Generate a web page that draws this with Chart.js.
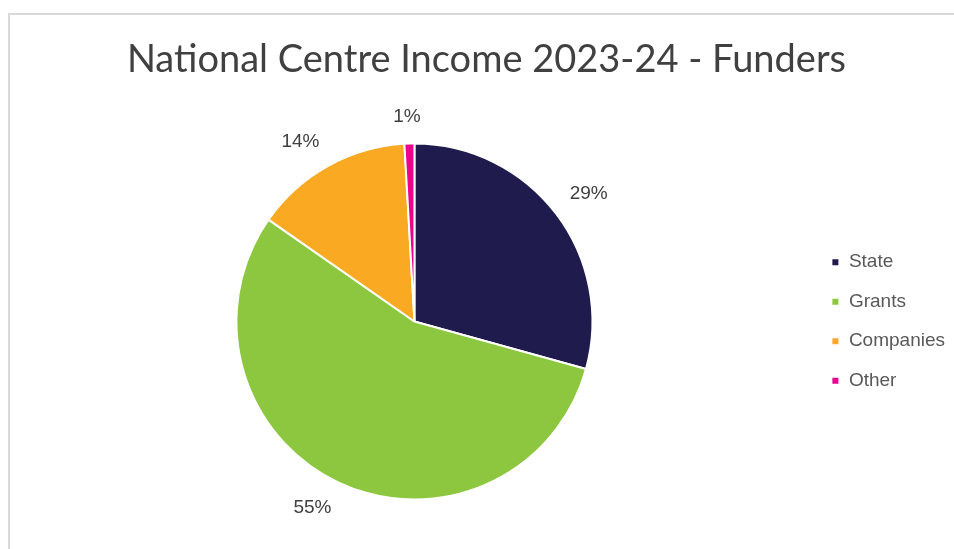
<!DOCTYPE html>
<html>
<head>
<meta charset="utf-8">
<script src="https://cdn.jsdelivr.net/npm/chart.js@4.4.1/dist/chart.umd.min.js"></script>
<style>
    body { margin: 0; background: #ffffff; overflow: hidden; }
    #frame {
        position: absolute;
        left: 8px;
        top: 13px;
        width: 980px;
        height: 560px;
        border: 2px solid #d9d9d9;
    }
    #wrap {
        position: absolute;
        left: 0;
        top: 0;
        width: 958px;
        height: 534px;
    }
</style>
</head>
<body>
<div id="frame">
    <div id="wrap"><canvas id="chart1"></canvas></div>
</div>
<script>
const titleText = 'National Centre Income 2023-24 - Funders';
const funders = ['State', 'Grants', 'Companies', 'Other'];
const shares = [29.3, 55.4, 14.4, 0.9];
const sliceColours = ['#1f1b4d', '#8dc63f', '#faa922', '#ec008c'];

// Percent labels outside each slice, like Excel's "outside end":
// the label corner nearest the pie sits on a ring just outside the slice
const outsideLabels = {
    id: 'outsideLabels',
    afterDatasetsDraw(chart) {
        const ctx = chart.ctx;
        const meta = chart.getDatasetMeta(0);
        const data = chart.data.datasets[0].data;
        const total = data.reduce((s, v) => s + v, 0);
        const h = 19;
        const gap = 17;
        ctx.save();
        ctx.font = '19px "Liberation Sans", Arial, sans-serif';
        ctx.fillStyle = '#404040';
        ctx.textAlign = 'center';
        ctx.textBaseline = 'middle';
        meta.data.forEach((arc, i) => {
            const text = Math.round(data[i] / total * 100) + '%';
            const mid = (arc.startAngle + arc.endAngle) / 2;
            const cx = Math.cos(mid), cy = Math.sin(mid);
            const w = ctx.measureText(text).width;
            const d = arc.outerRadius + gap;
            const ox = Math.sign(cx) * w / 2 * Math.min(1, Math.abs(cx) / 0.2);
            const oy = Math.sign(cy) * h / 2 * Math.min(1, Math.abs(cy) / 0.2);
            ctx.fillText(text, arc.x + cx * d + ox, arc.y + cy * d + oy);
        });
        ctx.restore();
    }
};

document.addEventListener('DOMContentLoaded', function() {
    const ctx1 = document.getElementById('chart1').getContext('2d');

    new Chart(ctx1, {
        type: 'pie',
        data: {
            labels: funders,
            datasets: [{
                data: shares,
                backgroundColor: sliceColours,
                borderColor: '#ffffff',
                borderWidth: 2
            }]
        },
        options: {
            responsive: true,
            maintainAspectRatio: false,
            animation: false,
            events: [],
            layout: {
                padding: { left: 8, right: 13, top: 0, bottom: 48.5 }
            },
            plugins: {
                title: {
                    display: true,
                    text: titleText,
                    color: '#404040',
                    font: { family: 'Lato', size: 38, weight: 'normal' },
                    padding: { top: 21.9, bottom: 60 }
                },
                legend: {
                    position: 'right',
                    fullSize: false,
                    align: 'center',
                    labels: {
                        boxWidth: 8,
                        boxHeight: 8,
                        padding: 20.5,
                        color: '#595959',
                        font: { family: '"Liberation Sans", Arial, sans-serif', size: 19 }
                    }
                },
                tooltip: { enabled: false }
            }
        },
        plugins: [outsideLabels]
    });
});
</script>
</body>
</html>
